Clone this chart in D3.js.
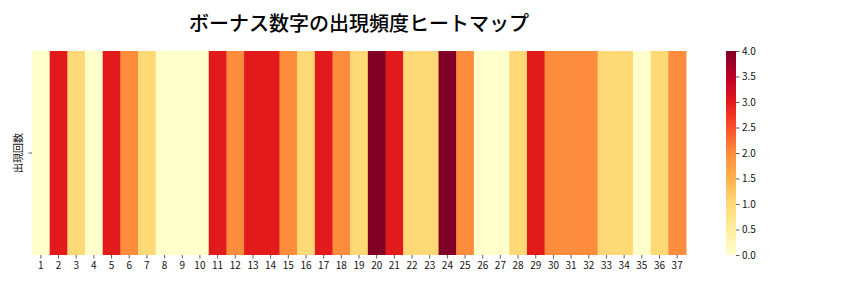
<!DOCTYPE html>
<html>
<head>
<meta charset="utf-8">
<script src="https://cdn.jsdelivr.net/npm/d3@7"></script>
<style>
  body { margin: 0; background: #fff; }
  svg { font-family: "Noto Sans CJK JP", "Noto Sans", sans-serif; }
</style>
</head>
<body>
<svg width="864" height="288"></svg>
<script>
'use strict'

// bonus numbers 1..37 and how often each appeared
const numbers = d3.range(1, 38);
const counts = [0, 3, 1, 0, 3, 2, 1, 0, 0, 0,
                3, 2, 3, 3, 2, 1, 3, 2, 1, 4,
                3, 1, 1, 4, 2, 0, 0, 1, 3, 2,
                2, 2, 1, 1, 0, 1, 2];
const rowLabels = ['出現回数'];
const cbarTicks = [0, 0.5, 1, 1.5, 2, 2.5, 3, 3.5, 4];

const YLORRD = ['#ffffcc', '#ffeda0', '#fed976', '#feb24c', '#fd8d3c',
                '#fc4e2a', '#e31a1c', '#bd0026', '#800026'];

const svg = d3.select('svg');
const mLeft = 32, mRight = 686, mTop = 51, mBottom = 255;

const x = d3.scaleBand().domain(numbers).range([mLeft, mRight]);
const y = d3.scaleBand().domain(rowLabels).range([mTop, mBottom]);
const color = d3.scaleLinear()
  .domain(d3.range(9).map(i => i * 4 / 8))
  .range(YLORRD);

// Title
svg.append('text')
  .attr('x', 359)
  .attr('y', 31)
  .attr('text-anchor', 'middle')
  .style('font-size', '20px')
  .style('font-weight', 500)
  .style('fill', '#000')
  .text('ボーナス数字の出現頻度ヒートマップ');

// Cells
svg.append('g')
  .selectAll('rect')
  .data(numbers)
  .join('rect')
  .attr('x', d => x(d))
  .attr('y', y(rowLabels[0]))
  .attr('width', x.bandwidth() + 0.5)
  .attr('height', y.bandwidth())
  .attr('fill', (d, i) => color(counts[i]));

// Axes
const xAxis = svg.append('g')
  .attr('transform', `translate(0,${mBottom})`)
  .call(d3.axisBottom(x).tickSize(3.5).tickPadding(3.5));
const yAxis = svg.append('g')
  .attr('transform', `translate(${mLeft},0)`)
  .call(d3.axisLeft(y).tickSize(3.5).tickFormat(''));
[xAxis, yAxis].forEach(a => {
  a.select('.domain').remove();
  a.selectAll('text').style('font-size', '10px').style('font-family', '"Noto Sans CJK JP", sans-serif').attr('fill', '#111');
  a.selectAll('line').attr('stroke', '#333').attr('stroke-width', 0.8);
});

svg.append('text')
  .attr('transform', `translate(22,${(mTop + mBottom) / 2}) rotate(-90)`)
  .attr('text-anchor', 'middle')
  .style('font-size', '10px')
  .style('fill', '#111')
  .text(rowLabels[0]);

// Colorbar
const cbX = 726, cbW = 10;
const grad = svg.append('defs').append('linearGradient')
  .attr('id', 'cbar')
  .attr('x1', 0).attr('y1', 1).attr('x2', 0).attr('y2', 0);
grad.selectAll('stop')
  .data(YLORRD)
  .join('stop')
  .attr('offset', (d, i) => i / 8)
  .attr('stop-color', d => d);

svg.append('rect')
  .attr('x', cbX).attr('y', mTop)
  .attr('width', cbW).attr('height', mBottom - mTop)
  .attr('fill', 'url(#cbar)');

const cy = d3.scaleLinear().domain([0, 4]).range([mBottom, mTop]);
const cAxis = svg.append('g')
  .attr('transform', `translate(${cbX + cbW},0)`)
  .call(d3.axisRight(cy).tickValues(cbarTicks).tickFormat(d3.format('.1f')).tickSize(3.5).tickPadding(2.5));
cAxis.select('.domain').remove();
cAxis.selectAll('text').style('font-size', '10px').style('font-family', '"Noto Sans CJK JP", sans-serif').attr('fill', '#111');
cAxis.selectAll('line').attr('stroke', '#333').attr('stroke-width', 0.8);
</script>
</body>
</html>
